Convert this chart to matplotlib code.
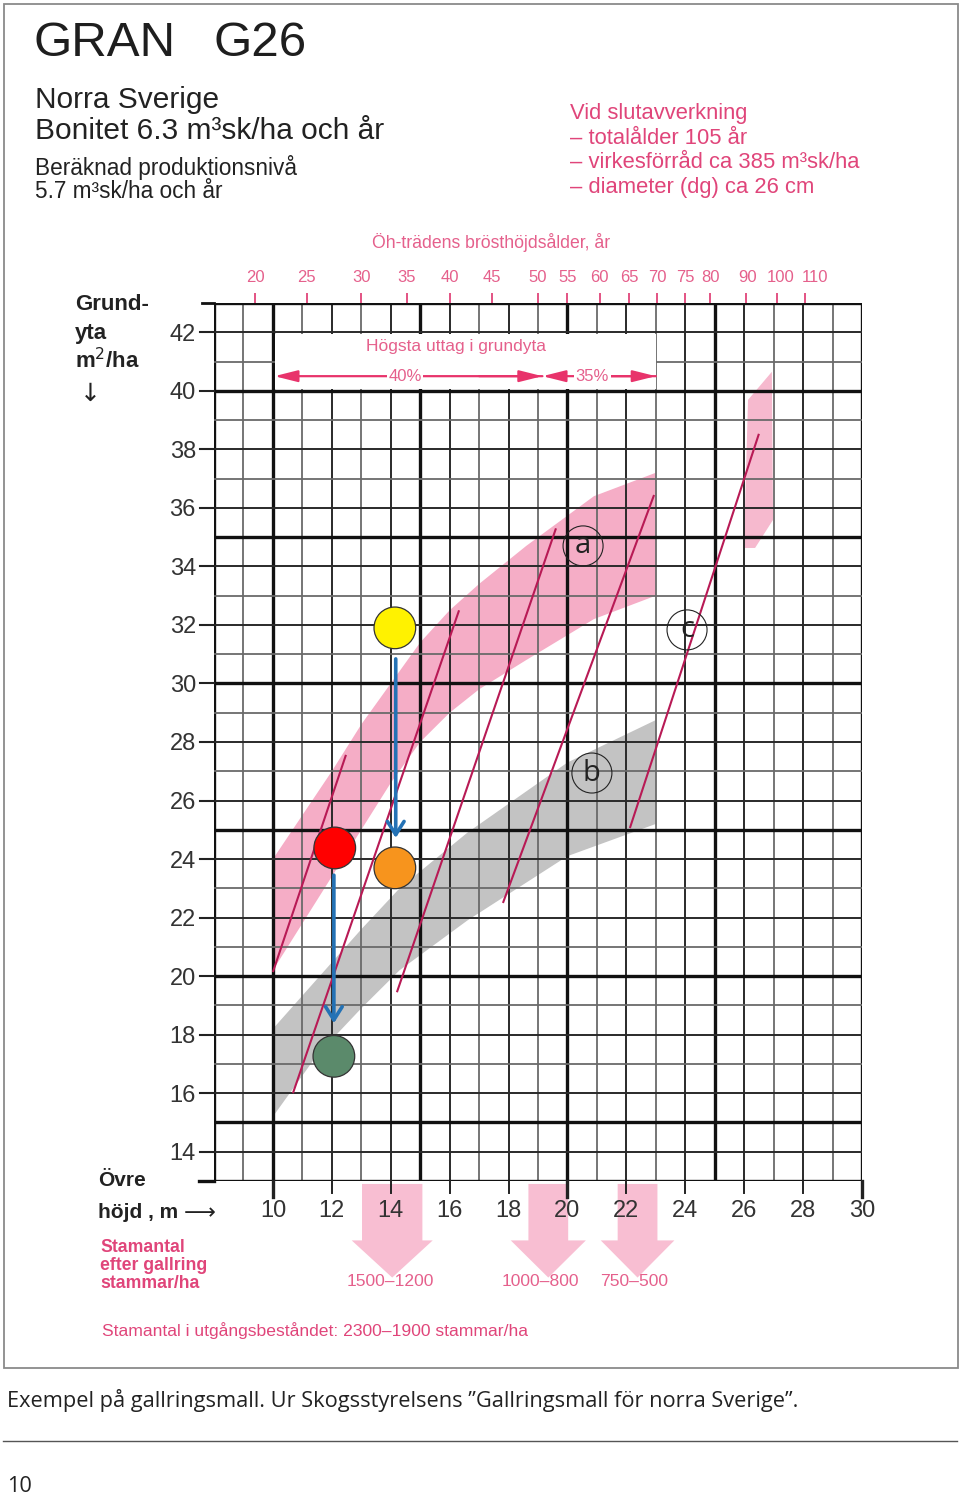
import matplotlib
matplotlib.use('Agg')
import matplotlib.pyplot as plt
from matplotlib.patches import Rectangle
import numpy as np

W, H = 960, 1497

# ---------------- data ----------------
height_ticks = [10, 12, 14, 16, 18, 20, 22, 24, 26, 28, 30]
basal_ticks = [14, 16, 18, 20, 22, 24, 26, 28, 30, 32, 34, 36, 38, 40, 42]
age_labels = ['20', '25', '30', '35', '40', '45', '50', '55', '60', '65',
              '70', '75', '80', '90', '100', '110']
age_pos = [9.4, 11.15, 13.0, 14.55, 16.0, 17.45, 19.0, 20.0, 21.1, 22.1,
           23.05, 24.0, 24.85, 26.05, 27.1, 28.05]
age_label_pos = [9.4, 11.15, 13.0, 14.55, 16.0, 17.45, 19.0, 20.0, 21.1, 22.1,
                 23.05, 24.0, 24.85, 26.1, 27.25, 28.4]

# upper pink band (a)
band_a_up_h = [10.0, 11.0, 12.0, 13.0, 14.0, 15.0, 16.0, 17.0, 18.6, 20.9, 23.0]
band_a_up_g = [24.0, 25.5, 27.0, 28.6, 30.0, 31.4, 32.5, 33.4, 34.7, 36.4, 37.2]
band_a_lo_h = [10.0, 11.0, 12.0, 13.0, 14.0, 15.0, 16.0, 17.0, 18.6, 20.9, 23.0]
band_a_lo_g = [20.2, 21.8, 23.4, 25.0, 26.6, 28.0, 29.0, 29.8, 30.8, 32.2, 33.0]
# grey band (b)
band_b_up_h = [10.0, 11.5, 13.0, 14.3, 16.6, 20.0, 23.0]
band_b_up_g = [18.2, 19.9, 21.6, 23.0, 24.9, 27.3, 28.75]
band_b_lo_h = [10.0, 11.5, 13.0, 14.3, 16.6, 20.0, 23.0]
band_b_lo_g = [15.2, 17.3, 18.9, 20.2, 21.9, 24.1, 25.2]
# steep pink band (c)
band_c_h = [25.99, 26.13, 26.94, 26.98, 26.37]
band_c_g = [34.63, 39.69, 40.65, 35.59, 34.63]

# thinning lines (h0, g0, h1, g1)
thin_h0 = [10.0, 10.68, 14.21, 17.81, 22.12]
thin_g0 = [20.14, 16.0, 19.45, 22.5, 25.06]
thin_h1 = [12.48, 16.32, 19.61, 22.94, 26.5]
thin_g1 = [27.56, 32.5, 35.3, 36.44, 38.53]

# example stands
pt_h = [14.14, 12.1, 14.14, 12.07]
pt_g = [31.9, 24.38, 23.7, 17.26]
pt_col = ['#fff200', '#ff0000', '#f7941d', '#5b8a6b']

# blue arrows (h, g_start, g_end)
arr_h = [14.17, 12.07]
arr_g0 = [30.84, 23.45]
arr_g1 = [24.72, 18.39]

# circle labels
lab_txt = ['a', 'b', 'c']
lab_h = [20.53, 20.83, 24.06]
lab_g = [34.7, 26.94, 31.83]

# stem number arrows below axis
stem_h = [14.05, 19.35, 22.38]
stem_w = [2.05, 1.35, 1.35]
stem_hw = [2.75, 2.55, 2.5]
stem_txt = ['1500–1200', '1000–800', '750–500']
stem_txt_h = [13.97, 19.07, 22.26]

PINK = '#e0457a'
PINK2 = '#e5608c'
LINE = '#b81a55'

fig = plt.figure(figsize=(W / 100, H / 100), dpi=100)

def fx(px):
    return px / W

def fy(py):
    return 1 - py / H

# outer frame
fig.patches.append(Rectangle((fx(4), fy(1368)), fx(958) - fx(4), fy(4) - fy(1368),
                             transform=fig.transFigure, fill=False,
                             edgecolor='#8a8a8a', lw=1.3))

L, R, T, B = 214, 862, 303, 1181
ax = fig.add_axes([fx(L), fy(B), (R - L) / W, (B - T) / H])
ax.set_xlim(8, 30)
ax.set_ylim(13, 43)
for s in ax.spines.values():
    s.set_visible(False)

# bands
ax.fill(np.concatenate([band_a_up_h, band_a_lo_h[::-1]]),
        np.concatenate([band_a_up_g, band_a_lo_g[::-1]]),
        color='#f5adc6', lw=0, zorder=1)
ax.fill(np.concatenate([band_b_up_h, band_b_lo_h[::-1]]),
        np.concatenate([band_b_up_g, band_b_lo_g[::-1]]),
        color='#c3c3c3', lw=0, zorder=1)
ax.fill(band_c_h, band_c_g, color='#f6b9ce', lw=0, zorder=1)

# grid
for v in range(8, 31):
    if v % 5 == 0 or v == 8:
        ax.axvline(v, color='#111111', lw=2.4, zorder=2)
    elif v % 2 == 0:
        ax.axvline(v, color='#2a2a2a', lw=1.4, zorder=2)
    else:
        ax.axvline(v, color='#6a6a6a', lw=1.3, zorder=2)
for g in range(13, 44):
    if g % 5 == 0 or g in (13, 43):
        ax.axhline(g, color='#111111', lw=2.4, zorder=2)
    elif g % 2 == 0:
        ax.axhline(g, color='#2a2a2a', lw=1.4, zorder=2)
    else:
        ax.axhline(g, color='#6a6a6a', lw=1.3, zorder=2)

# white box at the top
ax.add_patch(Rectangle((10.08, 40.06), 12.92, 1.88, facecolor='white',
                       edgecolor='none', zorder=3))
ax.text(16.2, 41.52, 'Högsta uttag i grundyta', color=PINK2, fontsize=12.5,
        ha='center', va='center', zorder=5, family='Liberation Sans')
ARW = dict(arrowstyle='-|>,head_length=1.4,head_width=0.35',
           color='#e8336b', lw=1.6, shrinkA=0, shrinkB=0)
ax.annotate('', xy=(10.05, 40.5), xytext=(19.15, 40.5), arrowprops=ARW, zorder=4)
ax.annotate('', xy=(19.15, 40.5), xytext=(17.0, 40.5), arrowprops=ARW, zorder=4)
ax.annotate('', xy=(19.15, 40.5), xytext=(23.0, 40.5), arrowprops=ARW, zorder=4)
ax.annotate('', xy=(23.0, 40.5), xytext=(20.8, 40.5), arrowprops=ARW, zorder=4)
ax.text(14.5, 40.5, '40%', color=PINK2, fontsize=12, ha='center', va='center',
        zorder=6, family='Liberation Sans',
        bbox=dict(facecolor='white', edgecolor='none', pad=1))
ax.text(20.85, 40.5, '35%', color=PINK2, fontsize=12, ha='center', va='center',
        zorder=6, family='Liberation Sans',
        bbox=dict(facecolor='white', edgecolor='none', pad=1))

# thinning lines
for h0, g0, h1, g1 in zip(thin_h0, thin_g0, thin_h1, thin_g1):
    ax.plot([h0, h1], [g0, g1], color=LINE, lw=1.5, zorder=4,
            solid_capstyle='butt')

# circle labels
ax.scatter(lab_h, lab_g, s=830, facecolors='none', edgecolors='#222222',
           linewidths=0.8, zorder=6)
for t, h, g in zip(lab_txt, lab_h, lab_g):
    ax.text(h, g, t, fontsize=21, ha='center', va='center',
            color='#222222', family='Open Sans', zorder=7)

# blue arrows
for h, g0, g1 in zip(arr_h, arr_g0, arr_g1):
    ax.annotate('', xy=(h, g1), xytext=(h, g0),
                arrowprops=dict(arrowstyle='->,head_length=0.95,head_width=0.6',
                                color='#2472b5', lw=2.6, shrinkA=0, shrinkB=0),
                zorder=7)

# example stand markers
ax.scatter(pt_h, pt_g, s=900, c=pt_col, edgecolors='#333333', linewidths=0.9,
           zorder=8)

# axes ticks and labels
ax.set_xticks(height_ticks)
ax.set_xticklabels([str(v) for v in height_ticks])
ax.set_yticks(basal_ticks)
ax.set_yticklabels([str(v) for v in basal_ticks])
ax.tick_params(axis='both', length=0, labelsize=17, labelcolor='#333333')
ax.tick_params(axis='x', pad=14)
ax.tick_params(axis='y', pad=13)
for lab in ax.get_xticklabels() + ax.get_yticklabels():
    lab.set_family('Liberation Sans')

# manual tick marks
for g in basal_ticks:
    ax.plot([7.52, 8.0], [g, g], color='#222222', lw=1.5, clip_on=False, zorder=3)
ax.plot([7.5, 8.0], [13, 13], color='#111111', lw=2.4, clip_on=False, zorder=3)
ax.plot([7.6, 8.0], [43, 43], color='#111111', lw=2.0, clip_on=False, zorder=3)
for v in height_ticks:
    thick = v % 10 == 0
    ax.plot([v, v], [13, 12.45 if thick else 12.6], color='#222222',
            lw=2.4 if thick else 1.4, clip_on=False, zorder=3)

# stem-number arrows below the chart
for h, w, hw in zip(stem_h, stem_w, stem_hw):
    ax.arrow(h, 12.9, 0, -3.2, width=w, head_width=hw, head_length=1.27,
             length_includes_head=True, color='#f8bed2', lw=0,
             clip_on=False, zorder=1)
for t, h in zip(stem_txt, stem_txt_h):
    ax.text(h, 9.55, t, color=PINK2, fontsize=12.6, ha='center', va='center',
            family='Liberation Sans', clip_on=False)

# top age axis
ax2 = ax.twiny()
ax2.set_xlim(ax.get_xlim())
for s in ax2.spines.values():
    s.set_visible(False)
ax2.set_xticks(age_pos)
ax2.set_xticklabels([''] * len(age_pos))
ax2.tick_params(axis='x', colors='#e0457a', length=7.5, width=1.3)
for t, h in zip(age_labels, age_label_pos):
    ax2.text(h, 43.88, t, color=PINK2, fontsize=12, ha='center', va='center',
             family='Liberation Sans', clip_on=False)

# ---------- texts ----------
hf = 'Liberation Sans'
fig.text(fx(33), fy(43), 'GRAN', fontsize=35.5, family=hf, color='#1e1e1e',
         va='center', ha='left')
fig.text(fx(214), fy(43), 'G26', fontsize=35.5, family=hf, color='#1e1e1e',
         va='center', ha='left')
fig.text(fx(35), fy(100), 'Norra Sverige', fontsize=21.5, family=hf,
         color='#222222', va='center')
fig.text(fx(35), fy(131), 'Bonitet 6.3 m³sk/ha och år', fontsize=21.5,
         family=hf, color='#222222', va='center')
fig.text(fx(35), fy(167), 'Beräknad produktionsnivå', fontsize=16.3,
         family=hf, color='#222222', va='center')
fig.text(fx(35), fy(192), '5.7 m³sk/ha och år', fontsize=16.3, family=hf,
         color='#222222', va='center')

for i, t in enumerate(['Vid slutavverkning', '– totalålder 105 år',
                       '– virkesförråd ca 385 m³sk/ha',
                       '– diameter (dg) ca 26 cm']):
    fig.text(fx(570), fy(113 + 25 * i), t, fontsize=15.8, family=hf, color=PINK,
             va='center')

fig.text(fx(491), fy(243), 'Öh-trädens brösthöjdsålder, år', fontsize=12.7,
         family=hf, color=PINK2, ha='center', va='center')

for i, t in enumerate(['Grund-', 'yta', 'm$^2$/ha']):
    fig.text(fx(75), fy(305 + 28 * i), t, fontsize=16, family=hf,
             weight='bold', color='#222222', va='center')
fig.text(fx(90), fy(394), '↓', fontsize=18, family='DejaVu Sans',
         color='#222222', va='center', ha='center')

fig.text(fx(98), fy(1181), 'Övre', fontsize=15, family=hf, weight='bold',
         color='#222222', va='center')
fig.text(fx(98), fy(1212), 'höjd , m', fontsize=15, family=hf, weight='bold',
         color='#222222', va='center')
fig.text(fx(200), fy(1213), '⟶', fontsize=16, family='DejaVu Sans',
         color='#222222', va='center', ha='center')

for i, t in enumerate(['Stamantal', 'efter gallring', 'stammar/ha']):
    fig.text(fx(100), fy(1248 + 18 * i), t, fontsize=12.7, family=hf,
             weight='bold', color=PINK, va='center')
fig.text(fx(102), fy(1331), 'Stamantal i utgångsbeståndet: 2300–1900 stammar/ha',
         fontsize=12.6, family=hf, color=PINK, va='center')

# caption and footer
fig.text(fx(7), fy(1400),
         'Exempel på gallringsmall. Ur Skogsstyrelsens ”Gallringsmall för norra Sverige”.',
         fontsize=15.7, family='Open Sans', color='#222222', va='center')
fig.add_artist(plt.Line2D([fx(3), fx(957)], [fy(1441), fy(1441)],
                          transform=fig.transFigure, color='#555555', lw=1.0))
fig.text(fx(7), fy(1487), '10', fontsize=15.7, family='Open Sans',
         color='#222222', va='center')

fig.savefig('out.png', dpi=100)
